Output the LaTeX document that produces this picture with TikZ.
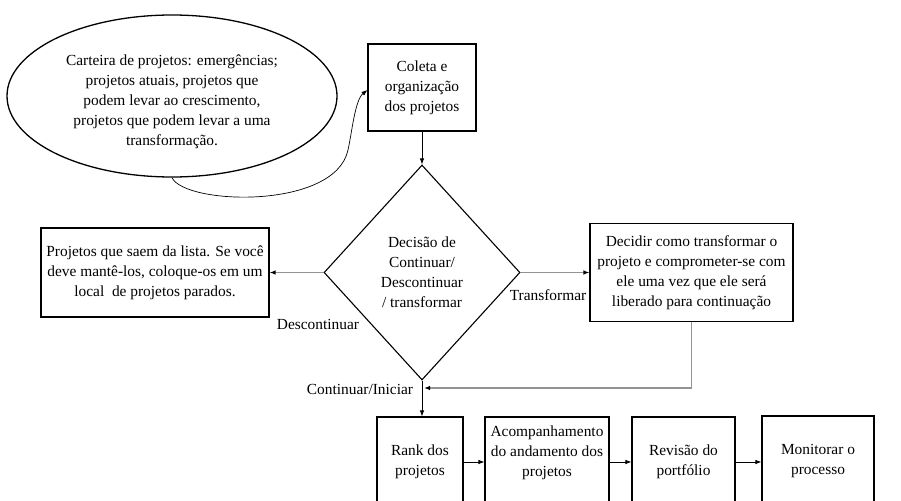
\documentclass[tikz,border=0pt]{standalone}
\usepackage{fontspec}
\setmainfont{Liberation Serif}
\newfontfamily\tnrfont{Liberation Serif}
\usetikzlibrary{shapes.geometric,arrows.meta}
\tikzset{
  txtfont/.style={font=\tnrfont\fontsize{15.4}{20}\selectfont},
  boxst/.style={draw=black, line width=1.1pt, fill=white, inner sep=0pt, align=center, txtfont},
  plain/.style={inner sep=0pt, align=center, txtfont},
  tip/.style={-{Latex[length=6pt,width=4.5pt,color=black]}},
  blackarrow/.style={draw=black, line width=0.8pt, tip},
  grayarrow/.style={draw=gray!85, line width=1.3pt, tip},
}
\begin{document}
\begin{tikzpicture}[x=1pt,y=-1pt]
\clip (0,0) rectangle (901,500);
\fill[white] (0,0) rectangle (901,500);

% ellipse
\node[draw=black, line width=1.3pt, shape=ellipse, minimum width=330pt, minimum height=162pt, inner sep=0pt] (el) at (172,96) {};
\node[plain] (elt) at (172,102) {Carteira de projetos: emergências;\\projetos atuais, projetos que\\podem levar ao crescimento,\\projetos que podem levar a uma\\transformação.};

% boxes
\node[boxst, minimum width=108pt, minimum height=87pt] (coleta) at (422,87.5) {Coleta e\\organização\\dos projetos};
\node[draw=black, line width=1.1pt, shape=diamond, minimum width=196pt, minimum height=215pt, inner sep=0pt, align=center, txtfont] (dec) at (422,272.5) {Decisão de\\Continuar/\\Descontinuar\\/ transformar};
\node[boxst, minimum width=228pt, minimum height=89pt] (left) at (155,272.5) {Projetos que saem da lista. Se você\\deve mantê-los, coloque-os em um\\local\ \ de projetos parados.};
\node[boxst, minimum width=203pt, minimum height=98pt] (right) at (691.5,272.5) {Decidir como transformar o\\projeto e comprometer-se com\\ele uma vez que ele será\\liberado para continuação};

\node[boxst, minimum width=86pt, minimum height=90pt] (rank) at (420,462) {Rank dos\\projetos};
\node[boxst, minimum width=124pt, minimum height=90pt] (acomp) at (547,462) {};
\node[plain] (acompt) at (547,453) {Acompanhamento\\do andamento dos\\projetos};
\node[boxst, minimum width=103pt, minimum height=90pt] (rev) at (683.5,462) {Revisão do\\portfólio};
\node[boxst, minimum width=112pt, minimum height=90pt] (mon) at (818,461) {Monitorar o\\processo};

% connectors
\draw[draw=black, line width=0.7pt, tip] (el.south) .. controls (185,205) and (335,210) .. (348,150) .. controls (352,132) and (355,100) .. ([yshift=-2.5pt]coleta.west);
\draw[blackarrow] (coleta.south) -- (dec.north);
\draw[grayarrow] (dec.west) -- (left.east);
\draw[grayarrow] (dec.east) -- (right.west);
\draw[blackarrow] (dec.south) -- (dec.south |- rank.north);
\coordinate (join) at (424,388);
\draw[grayarrow] (right.south) |- (join);
\draw[blackarrow] (rank.east |- 0,462) -- (acomp.west |- 0,462);
\draw[blackarrow] (acomp.east |- 0,462) -- (rev.west |- 0,462);
\draw[blackarrow] (rev.east |- 0,462) -- (mon.west |- 0,462);

% labels
\node[plain] (ldesc) at (318,324) {Descontinuar};
\node[plain] (ltrans) at (548,295) {Transformar};
\node[plain] (lcont) at (360,389) {Continuar/Iniciar};
\end{tikzpicture}
\end{document}
